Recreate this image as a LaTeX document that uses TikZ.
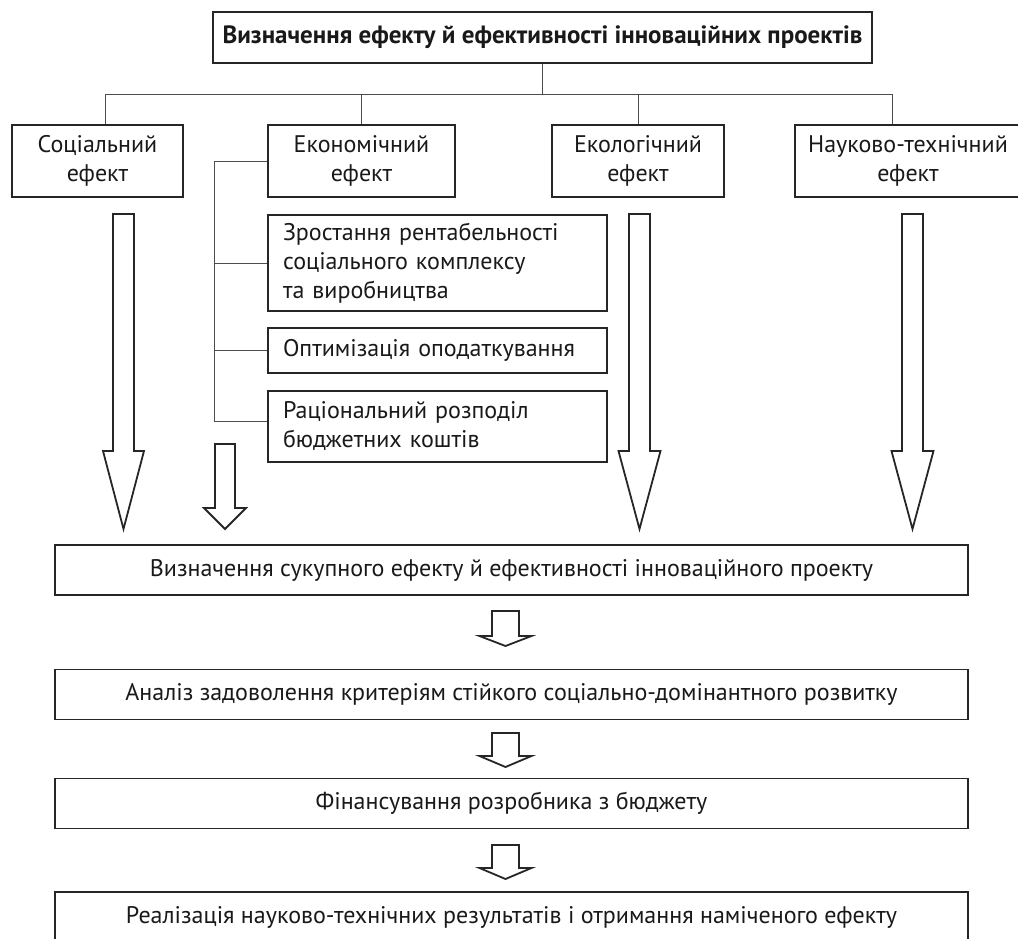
\documentclass[tikz,border=0pt]{standalone}
\usepackage{fontspec}
\setmainfont{PT Sans}
\usetikzlibrary{calc}
\usetikzlibrary{positioning}
\tikzset{
    box text/.style={
        font=\fontsize{24}{29}\selectfont,
        text=black!90,
    },
    effect box/.style={
        box text,
        draw=black!85,
        line width=1.8pt,
        align=center,
        inner sep=0pt,
    },
    factor box/.style={
        effect box,
        align=left,
        inner xsep=15pt,
        text width=309pt,
    },
    stage box/.style={
        effect box,
        minimum width=913pt,
        minimum height=50pt,
    },
    tree link/.style={
        draw=black!70,
        line width=0.9pt,
    },
    hollow arrow/.style={
        draw=black!85,
        line width=1.8pt,
        line join=miter,
        fill=white,
    },
}

\begin{document}
\begin{tikzpicture}[x=1pt, y=-1pt]

    \useasboundingbox (0,0) rectangle (1018,938);
    \clip (0,0) rectangle (1018,938);

    % top level
    \node[effect box, minimum width=659pt, minimum height=51pt, font=\fontsize{25}{29}\selectfont\bfseries]
        (title) at (542.5,37.5) {Визначення ефекту й ефективності інноваційних проектів};

    % kinds of effect
    \node[effect box, minimum width=171pt, minimum height=72pt] (social) at (97.5,161) {Соціальний\\ефект};
    \node[effect box, minimum width=187pt, minimum height=72pt] (econ) at (361.5,161) {Економічний\\ефект};
    \node[effect box, minimum width=172pt, minimum height=72pt] (ecol) at (638,161) {Екологічний\\ефект};
    \node[effect box, minimum width=226pt, minimum height=72pt] (scitech) at (908,161) {Науково-технічний\\ефект};

    % economic factors
    \node[factor box, minimum height=96pt] (growth) at (437.5,263) {Зростання рентабельності\\соціального комплексу\\та виробництва};
    \node[factor box, minimum height=45pt] (taxes) at (437.5,350.5) {Оптимізація оподаткування};
    \node[factor box, minimum height=71pt] (budget) at (437.5,426.5) {Раціональний розподіл\\бюджетних коштів};

    % stages
    \node[stage box] (total) at (511.5,570) {Визначення сукупного ефекту й ефективності інноваційного проекту};
    \node[stage box] (analysis) at (511.5,694.5) {Аналіз задоволення критеріям стійкого соціально-домінантного розвитку};
    \node[stage box] (funding) at (511.5,803.5) {Фінансування розробника з бюджету};
    \node[stage box] (result) at (511.5,917) {Реалізація науково-технічних результатів і отримання наміченого ефекту};

    % tree under the title
    \coordinate (bus) at (542.5,94);
    \draw[tree link] (title.south) -- (bus);
    \draw[tree link] (bus) -| ([xshift=7.5pt]social.north);
    \draw[tree link] (bus) -| (econ.north);
    \draw[tree link] (bus) -| (ecol.north);
    \draw[tree link] (bus) -| ([xshift=-16pt]scitech.north);

    % bracket of the economic effect
    \coordinate (rail) at (214,161);
    \draw[tree link] (econ.west) -- (rail) |- ([yshift=5.5pt]budget.west);
    \draw[tree link] (growth.west) -- (growth.west -| rail);
    \draw[tree link] (taxes.west) -- (taxes.west -| rail);

    % hollow arrows: x, shaft top, head top, tip, shaft half, head half
    \newcommand\hollowarrow[6]{
        \draw[hollow arrow] ({#1-#5},#2) -- ({#1+#5},#2) -- ({#1+#5},#3) -- ({#1+#6},#3)
            -- (#1,#4) -- ({#1-#6},#3) -- ({#1-#5},#3) -- cycle;
    }

    \hollowarrow{123.5}{214}{451}{529}{10.5}{20.5}
    \hollowarrow{639.5}{214}{451}{529}{10.5}{21}
    \hollowarrow{912.5}{214}{451}{529}{10.5}{21}
    \hollowarrow{225}{444}{508}{529}{10}{21}

    \hollowarrow{505.5}{611}{636}{646}{13.5}{26}
    \hollowarrow{505.5}{733}{756}{767}{13.5}{26}
    \hollowarrow{505.5}{845}{868}{879}{13.5}{26}

\end{tikzpicture}
\end{document}
